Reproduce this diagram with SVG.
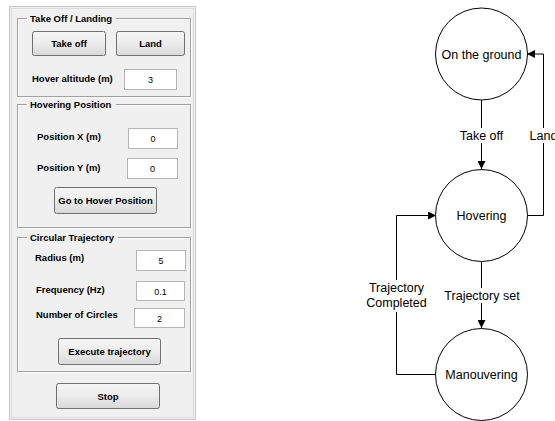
<svg xmlns="http://www.w3.org/2000/svg" width="555" height="421" viewBox="0 0 555 421">
<defs>
<linearGradient id="btn" x1="0" y1="0" x2="0" y2="1">
<stop offset="0" stop-color="#f6f6f6"/>
<stop offset="0.5" stop-color="#ececec"/>
<stop offset="1" stop-color="#d8d8d8"/>
</linearGradient>
<marker id="arr" viewBox="0 0 10 10" refX="10" refY="5" markerWidth="8" markerHeight="8" markerUnits="userSpaceOnUse" orient="auto">
<path d="M0,0 L10,5 L0,10 Z" fill="#000"/>
</marker>
</defs>
<style>
.lbl{font-family:"Liberation Sans",Arial,sans-serif;font-size:9.5px;font-weight:bold;fill:#000}
.btxt{font-family:"Liberation Sans",Arial,sans-serif;font-size:9.5px;font-weight:bold;fill:#000;text-anchor:middle}
.val{font-family:"Liberation Sans",Arial,sans-serif;font-size:9px;fill:#000;text-anchor:middle}
.grp{fill:none;stroke:#a0a0a0;stroke-width:1}
.grpw{fill:none;stroke:#ffffff;stroke-width:1}
.btn{fill:url(#btn);stroke:#707070;stroke-width:1}
.box{fill:#fff;stroke:#b5b5b5;stroke-width:1}
.node{fill:#fff;stroke:#000;stroke-width:1}
.ntxt{font-family:"Liberation Sans",Arial,sans-serif;font-size:12.5px;fill:#000;text-anchor:middle}
.edge{fill:none;stroke:#000;stroke-width:1}
.bg{fill:#fff}
</style>
<rect width="555" height="421" fill="#fff"/>
<g id="panel">
<rect x="9.5" y="6.5" width="186" height="413" fill="#f0f0f0" stroke="#c8c8c8"/>
<rect x="11.5" y="8.5" width="182" height="409" fill="none" stroke="#dcdcdc"/>
</g>
<g id="group-takeoff">
<rect class="grpw" x="18.5" y="19.5" width="173" height="78"/>
<rect class="grp" x="17.5" y="18.5" width="173" height="78"/>
<rect x="27" y="12" width="89" height="12" fill="#f0f0f0"/>
<text class="lbl" x="30" y="22">Take Off / Landing</text>
<g id="btn-takeoff"><rect class="btn" x="32.5" y="31.5" width="73" height="24" rx="2"/><text class="btxt" x="69" y="47">Take off</text></g>
<g id="btn-land"><rect class="btn" x="116.5" y="31.5" width="68" height="24" rx="2"/><text class="btxt" x="150.5" y="47">Land</text></g>
<text class="lbl" x="32" y="82">Hover altitude (m)</text>
<g id="in-alt"><rect class="box" x="124.5" y="69.5" width="52" height="20"/><text class="val" x="150.5" y="83">3</text></g>
</g>
<g id="group-hover">
<rect class="grpw" x="18.5" y="105.5" width="173" height="123"/>
<rect class="grp" x="17.5" y="104.5" width="173" height="123"/>
<rect x="27" y="98" width="89" height="12" fill="#f0f0f0"/>
<text class="lbl" x="30" y="108">Hovering Position</text>
<text class="lbl" x="37" y="140">Position X (m)</text>
<g id="in-x"><rect class="box" x="128.5" y="128.5" width="49" height="20"/><text class="val" x="153" y="142">0</text></g>
<text class="lbl" x="37" y="171">Position Y (m)</text>
<g id="in-y"><rect class="box" x="127.5" y="158.5" width="50" height="20"/><text class="val" x="152.5" y="172">0</text></g>
<g id="btn-goto"><rect class="btn" x="54.5" y="187.5" width="102" height="26" rx="2"/><text class="btxt" x="105.5" y="204">Go to Hover Position</text></g>
</g>
<g id="group-circ">
<rect class="grpw" x="18.5" y="238.5" width="173" height="134"/>
<rect class="grp" x="17.5" y="237.5" width="173" height="134"/>
<rect x="27" y="231" width="91" height="12" fill="#f0f0f0"/>
<text class="lbl" x="30" y="241">Circular Trajectory</text>
<text class="lbl" x="35" y="261">Radius (m)</text>
<g id="in-r"><rect class="box" x="136.5" y="250.5" width="49" height="20"/><text class="val" x="161" y="264">5</text></g>
<text class="lbl" x="36" y="293">Frequency (Hz)</text>
<g id="in-f"><rect class="box" x="136.5" y="281.5" width="48" height="19"/><text class="val" x="160.5" y="294.5">0.1</text></g>
<text class="lbl" x="36" y="318">Number of Circles</text>
<g id="in-n"><rect class="box" x="134.5" y="308.5" width="50" height="19"/><text class="val" x="159.5" y="321.5">2</text></g>
<g id="btn-exec"><rect class="btn" x="58.5" y="338.5" width="102" height="26" rx="2"/><text class="btxt" x="109.5" y="355">Execute trajectory</text></g>
</g>
<g id="btn-stop"><rect class="btn" x="56.5" y="383.5" width="103" height="25" rx="2"/><text class="btxt" x="108" y="399.5">Stop</text></g>

<g id="connectors">
<path class="edge" d="M481.5,100 V169" marker-end="url(#arr)"/>
<path class="edge" d="M527,215.5 H543.5 V54 H527" marker-end="url(#arr)"/>
<path class="edge" d="M481.5,262 V328" marker-end="url(#arr)"/>
<path class="edge" d="M436,374.5 H396.5 V215.5 H436" marker-end="url(#arr)"/>
<rect class="bg" x="456" y="128" width="51" height="15"/>
<text class="ntxt" x="481.5" y="139.5">Take off</text>
<rect class="bg" x="529" y="128" width="28" height="15"/>
<text class="ntxt" x="543.5" y="139.5">Land</text>
<rect class="bg" x="439" y="288" width="86" height="15"/>
<text class="ntxt" x="482" y="300">Trajectory set</text>
<rect class="bg" x="365" y="280" width="63" height="32"/>
<text class="ntxt" x="396.5" y="292">Trajectory</text>
<text class="ntxt" x="396.5" y="307">Completed</text>
</g>
<g id="node-ground"><circle class="node" cx="481.5" cy="54" r="46"/><text class="ntxt" x="481.5" y="58.5">On the ground</text></g>
<g id="node-hovering"><circle class="node" cx="481.5" cy="215.5" r="46"/><text class="ntxt" x="481.5" y="220">Hovering</text></g>
<g id="node-manouvering"><circle class="node" cx="481.5" cy="374.5" r="46"/><text class="ntxt" x="481.5" y="379">Manouvering</text></g>
</svg>
